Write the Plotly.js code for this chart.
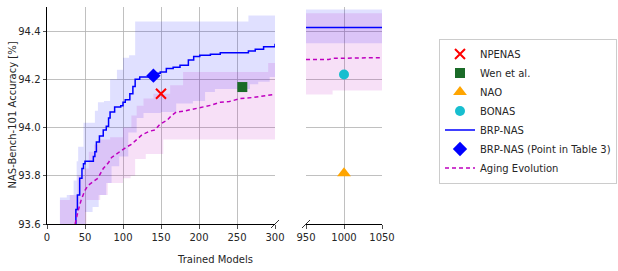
<!DOCTYPE html>
<html>
<head>
<meta charset="utf-8">
<script src="https://cdn.plot.ly/plotly-3.0.1.min.js"></script>
<style>html,body{margin:0;padding:0;background:#fff;}#chart{width:618px;height:271px;}</style>
</head>
<body>
<div id="chart"></div>
<script>
// ---- BRP-NAS mean curve (left panel)
const brpX = [37, 38, 40, 43, 46, 48, 50, 58, 61, 63, 65, 69, 74, 78, 81, 83, 89, 97, 100, 103, 109, 113, 116, 122, 137, 143, 149, 157, 166, 175, 186, 193, 201, 215, 228, 265, 274, 285, 300];
const brpY = [93.60, 93.66, 93.72, 93.79, 93.83, 93.85, 93.86, 93.86, 93.88, 93.90, 93.94, 93.965, 93.99, 94.005, 94.04, 94.065, 94.085, 94.09, 94.105, 94.115, 94.14, 94.17, 94.20, 94.21, 94.21, 94.225, 94.23, 94.245, 94.25, 94.258, 94.28, 94.295, 94.30, 94.304, 94.31, 94.318, 94.325, 94.335, 94.348];
// BRP-NAS band
const brpHiX = [17, 26, 35, 39, 41, 48, 59, 63, 67, 75, 83, 92, 100, 108, 116, 265, 300];
const brpHiY = [93.71, 93.72, 93.78, 93.86, 93.92, 94.02, 94.02, 94.07, 94.105, 94.11, 94.20, 94.24, 94.29, 94.30, 94.44, 94.465, 94.465];
const brpLoX = [17, 40, 50, 60, 68, 78, 85, 95, 107, 118, 127, 150, 170, 192, 208, 221, 267, 278, 293, 300];
const brpLoY = [93.50, 93.60, 93.65, 93.67, 93.72, 93.77, 93.84, 93.88, 93.98, 94.04, 94.06, 94.065, 94.10, 94.11, 94.147, 94.16, 94.18, 94.19, 94.21, 94.21];
// ---- Aging Evolution mean curve (left panel)
const agX = [37, 39, 41, 45, 50, 54, 60, 67, 74, 81, 85, 92, 98, 105, 111, 118, 125, 135, 142, 149, 158, 164, 170, 180, 190, 201, 215, 228, 240, 254, 272, 289, 300];
const agY = [93.60, 93.63, 93.655, 93.70, 93.74, 93.76, 93.775, 93.79, 93.83, 93.855, 93.876, 93.89, 93.905, 93.92, 93.93, 93.95, 93.97, 93.985, 93.99, 94.015, 94.03, 94.05, 94.064, 94.068, 94.075, 94.085, 94.092, 94.105, 94.108, 94.12, 94.125, 94.133, 94.137];
// Aging Evolution band
const agHiX = [17, 30, 40, 48, 55, 62, 67, 83, 100, 111, 118, 127, 140, 162, 179, 291, 300];
const agHiY = [93.70, 93.72, 93.80, 93.83, 93.90, 93.93, 93.95, 93.96, 94.00, 94.05, 94.09, 94.12, 94.14, 94.175, 94.23, 94.268, 94.268];
const agLoX = [17, 45, 52, 70, 80, 100, 110, 116, 130, 153, 300];
const agLoY = [93.50, 93.60, 93.70, 93.72, 93.77, 93.79, 93.80, 93.87, 93.89, 93.95, 93.95];
// ---- right panel (950-1050)
const brpRX = [950, 1050];
const brpRY = [94.415, 94.415];
const brpRHi = [94.49, 94.49];
const brpRLo = [94.35, 94.35];
const agRX = [950, 980, 985, 1040, 1050];
const agRY = [94.282, 94.282, 94.287, 94.287, 94.29];
const agRBandX = [950, 985, 1050];
const agRHi = [94.474, 94.474, 94.474];
const agRLo = [94.137, 94.154, 94.154];
// ---- single method points
const npenasX = [150], npenasY = [94.14];
const wenX = [257], wenY = [94.168];
const naoX = [1000], naoY = [93.81];
const bonasX = [1000], bonasY = [94.22];
const tableX = [140], tableY = [94.215];

const BLUE = '#0000ff', MAG = '#bf00bf';
const BLUEF = 'rgba(0,0,255,0.12)', MAGF = 'rgba(191,0,191,0.12)';

function band(xl, yl, xh, yh, col, xa, ya) {
  return [
    {x: xl, y: yl, xaxis: xa, yaxis: ya, mode: 'lines', line: {width: 0, shape: 'hv'}, showlegend: false, hoverinfo: 'skip'},
    {x: xh, y: yh, xaxis: xa, yaxis: ya, mode: 'lines', line: {width: 0, shape: 'hv'}, fill: 'tonexty', fillcolor: col, showlegend: false, hoverinfo: 'skip'}
  ];
}

const traces = [].concat(
  band(brpLoX, brpLoY, brpHiX, brpHiY, BLUEF, 'x', 'y'),
  band(agLoX, agLoY, agHiX, agHiY, MAGF, 'x', 'y'),
  band(brpRX, brpRLo, brpRX, brpRHi, BLUEF, 'x2', 'y2'),
  band(agRBandX, agRLo, agRBandX, agRHi, MAGF, 'x2', 'y2'),
  [
    {x: brpX, y: brpY, xaxis: 'x', yaxis: 'y', mode: 'lines', line: {color: BLUE, width: 1.5, shape: 'hv'}, name: 'BRP-NAS', legendrank: 5},
    {x: agX, y: agY, xaxis: 'x', yaxis: 'y', mode: 'lines', line: {color: MAG, width: 1.5, dash: '4px,3px'}, name: 'Aging Evolution', legendrank: 7},
    {x: brpRX, y: brpRY, xaxis: 'x2', yaxis: 'y2', mode: 'lines', line: {color: BLUE, width: 1.5}, showlegend: false},
    {x: agRX, y: agRY, xaxis: 'x2', yaxis: 'y2', mode: 'lines', line: {color: MAG, width: 1.5, dash: '4px,3px'}, showlegend: false},
    {x: npenasX, y: npenasY, xaxis: 'x', yaxis: 'y', mode: 'markers', marker: {symbol: 'x-thin', size: 10, line: {color: '#ff0000', width: 2}, color: '#ff0000'}, name: 'NPENAS', legendrank: 1},
    {x: wenX, y: wenY, xaxis: 'x', yaxis: 'y', mode: 'markers', marker: {symbol: 'square', size: 10, color: '#1a6b28'}, name: 'Wen et al.', legendrank: 2},
    {x: naoX, y: naoY, xaxis: 'x2', yaxis: 'y2', mode: 'markers', marker: {symbol: 'triangle-up', size: 12, color: '#ffa500'}, name: 'NAO', legendrank: 3},
    {x: bonasX, y: bonasY, xaxis: 'x2', yaxis: 'y2', mode: 'markers', marker: {symbol: 'circle', size: 10, color: '#17becf'}, name: 'BONAS', legendrank: 4},
    {x: tableX, y: tableY, xaxis: 'x', yaxis: 'y', mode: 'markers', marker: {symbol: 'diamond', size: 11, color: BLUE}, name: 'BRP-NAS (Point in Table 3)', legendrank: 6}
  ]
);

const FONT = {family: 'DejaVu Sans, sans-serif', size: 10, color: '#262626'};
const axBase = {
  showgrid: true, gridcolor: '#b0b0b0', gridwidth: 0.8, zeroline: false,
  ticks: 'outside', ticklen: 3.5, tickwidth: 0.8, tickcolor: '#262626',
  tickfont: FONT, fixedrange: true, automargin: false
};
const L = 47, R = 618 - 382, T = 7, B = 271 - 224;
const W = 618 - L - R, H = 271 - T - B;
const d1 = (275 - L) / W, d2 = (306 - L) / W;

const layout = {
  width: 618, height: 271,
  margin: {l: L, r: R, t: T, b: B, pad: 0, autoexpand: false},
  paper_bgcolor: '#ffffff', plot_bgcolor: '#ffffff',
  font: FONT,
  showlegend: true,
  legend: {
    x: (439 - L) / W, y: (120 - T) / H, xanchor: 'left', yanchor: 'middle',
    traceorder: 'normal',
    bgcolor: '#ffffff', bordercolor: '#cccccc', borderwidth: 1,
    font: {family: 'DejaVu Sans, sans-serif', size: 10, color: '#262626'},
    tracegroupgap: 0, itemwidth: 30
  },
  xaxis: Object.assign({}, axBase, {domain: [0, d1], range: [0, 300], tickvals: [0, 50, 100, 150, 200, 250, 300],
    showline: true, linecolor: '#000', linewidth: 1, anchor: 'y'}),
  yaxis: Object.assign({}, axBase, {domain: [0, 1], range: [93.6, 94.5], tickvals: [93.6, 93.8, 94.0, 94.2, 94.4], tickformat: '.1f',
    showline: true, linecolor: '#000', linewidth: 1, anchor: 'x'}),
  xaxis2: Object.assign({}, axBase, {domain: [d2, 1], range: [950, 1050], tickvals: [950, 1000, 1050],
    showline: true, linecolor: '#000', linewidth: 1, anchor: 'y2'}),
  yaxis2: Object.assign({}, axBase, {domain: [0, 1], range: [93.6, 94.5], tickvals: [93.6, 93.8, 94.0, 94.2, 94.4],
    showticklabels: false, ticks: '', showline: false, anchor: 'x2'}),
  annotations: [
    {text: 'Trained Models', xref: 'paper', yref: 'paper', x: (215 - L) / W, y: -(259 - 224) / H,
      xanchor: 'center', yanchor: 'middle', showarrow: false, font: FONT},
    {text: 'NAS-Bench-101 Accuracy [%]', xref: 'paper', yref: 'paper', x: (12 - L) / W, y: 0.5,
      xanchor: 'center', yanchor: 'middle', textangle: -90, showarrow: false, font: FONT}
  ],
  shapes: [
    {type: 'line', xref: 'paper', yref: 'paper', xsizemode: 'pixel', ysizemode: 'pixel', xanchor: d1, yanchor: 0,
      x0: -4, x1: 4, y0: -4, y1: 4, line: {color: '#000', width: 0.8}},
    {type: 'line', xref: 'paper', yref: 'paper', xsizemode: 'pixel', ysizemode: 'pixel', xanchor: d2, yanchor: 0,
      x0: -4, x1: 4, y0: -4, y1: 4, line: {color: '#000', width: 0.8}}
  ]
};

Plotly.newPlot('chart', traces, layout, {staticPlot: true, displayModeBar: false});
</script>
</body>
</html>
